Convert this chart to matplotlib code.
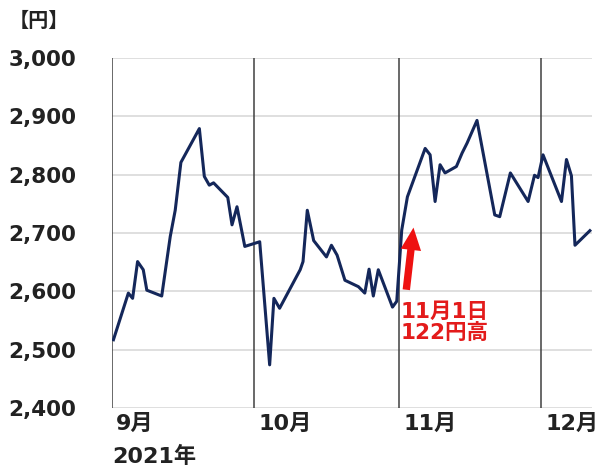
import matplotlib
matplotlib.use("Agg")
import matplotlib.pyplot as plt

plt.rcParams['font.family'] = ['DejaVu Sans', 'Noto Sans CJK JP']

# trading-day position (from start of Sep 2021) and closing price (yen)
days = [0.2, 2.3, 2.9, 3.6, 4.4, 4.9, 7.0, 8.2, 8.9, 9.7, 12.3, 13.0, 13.7, 14.3,
        16.3, 16.9, 17.6, 18.7, 20.8, 22.2, 22.8, 23.6, 26.5, 26.9, 27.5, 28.4,
        30.2, 30.9, 31.7, 32.8, 34.7, 35.6, 36.2, 36.8, 37.5, 39.5, 40.1, 40.8,
        41.6, 44.1, 44.8, 45.5, 46.2, 46.9, 48.5, 49.3, 50.0, 51.4, 53.9, 54.6,
        56.1, 58.6, 59.5, 60.0, 60.7, 63.3, 64.0, 64.7, 65.2, 67.3]
prices = [2517, 2597, 2588, 2651, 2637, 2602, 2592, 2694, 2739, 2821, 2879, 2797, 2782, 2786,
          2761, 2714, 2745, 2677, 2685, 2474, 2588, 2571, 2637, 2651, 2739, 2687,
          2659, 2679, 2662, 2619, 2608, 2597, 2638, 2592, 2637, 2573, 2583, 2705,
          2762, 2845, 2834, 2754, 2817, 2803, 2814, 2837, 2854, 2893, 2731, 2728,
          2803, 2754, 2799, 2795, 2834, 2754, 2826, 2798, 2679, 2704]

month_starts = [0, 20, 40.4, 60.4]
month_labels = ['9月', '10月', '11月', '12月']
yticks = [2400, 2500, 2600, 2700, 2800, 2900, 3000]
ytick_labels = ['2,400', '2,500', '2,600', '2,700', '2,800', '2,900', '3,000']

fig = plt.figure(figsize=(6, 4.67), dpi=100)
ax = fig.add_axes([0.1867, 0.1263, 0.80, 0.7495])

ax.set_xlim(0, 67.6)
ax.set_ylim(2400, 3000)
ax.set_yticks(yticks)
ax.set_yticklabels(ytick_labels, fontsize=15.5, fontweight='bold', color='#222222')
ax.tick_params(axis='y', length=0, pad=26)
ax.set_xticks([])
for s in ax.spines.values():
    s.set_visible(False)
ax.grid(axis='y', color='#d9d9d9', linewidth=1.2)
ax.set_axisbelow(True)
for m in month_starts:
    ax.axvline(m, color='#404040', linewidth=1.1, zorder=1)

ax.plot(days, prices, color='#14275a', linewidth=2.2, zorder=3)

for m, lab in zip(month_starts, month_labels):
    ax.annotate(lab, xy=(m, 0), xycoords=('data', 'axes fraction'),
                xytext=(3, -4), textcoords='offset points', ha='left', va='top',
                fontsize=16, fontweight='bold', color='#222222')
ax.annotate('2021年', xy=(0, 0), xycoords=('data', 'axes fraction'),
            xytext=(0, -27), textcoords='offset points', ha='left', va='top',
            fontsize=16, fontweight='bold', color='#222222')

fig.text(0.015, 0.955, '【円】', fontsize=14.5, fontweight='bold', color='#222222',
         ha='left', va='center')

ax.annotate('', xy=(42.5, 2714), xytext=(41.4, 2598),
            arrowprops=dict(arrowstyle='simple,head_width=1.05,head_length=1.15,tail_width=0.38',
                            mutation_scale=14, color='#ee1111', lw=0))
ax.text(40.7, 2582, '11月1日\n122円高', color='#e31b1b', fontsize=15.5, fontweight='bold',
        ha='left', va='top', linespacing=1.1)

fig.savefig('out.png', dpi=100)
